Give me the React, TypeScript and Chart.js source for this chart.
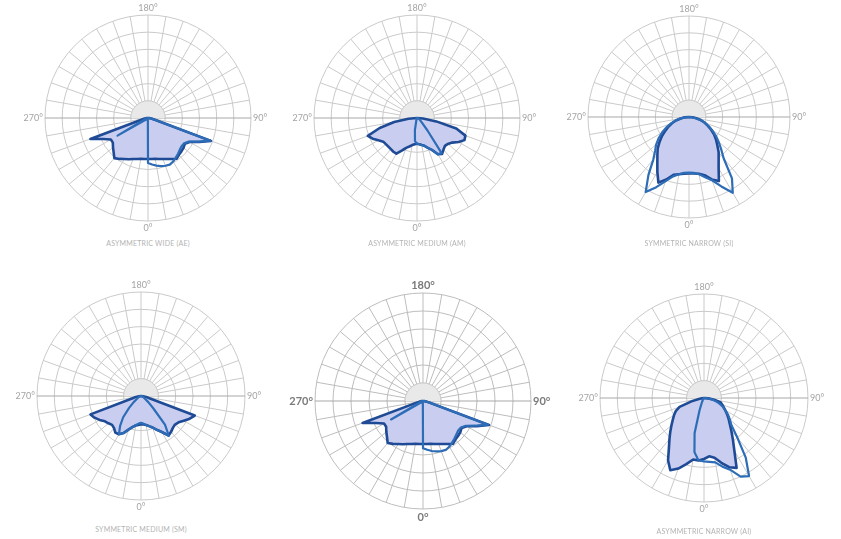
import React, { useEffect, useRef } from "react";
import { Chart, registerables } from "chart.js";

Chart.register(...registerables);

// Angles (degrees) around each diagram, clockwise starting at the top (180°)
const angles = [
  180, 175, 170, 165, 160, 155, 150, 145, 140, 135, 130, 125, 120, 115, 110, 105, 100, 95,
  90, 85, 80, 75, 70, 65, 60, 55, 50, 45, 40, 35, 30, 25, 20, 15, 10, 5,
  0, 355, 350, 345, 340, 335, 330, 325, 320, 315, 310, 305, 300, 295, 290, 285, 280, 275,
  270, 265, 260, 255, 250, 245, 240, 235, 230, 225, 220, 215, 210, 205, 200, 195, 190, 185,
];

// Only these angles carry a visible tick label
const axisTickLabels: Record<string, string> = { "180": "180°", "90": "90°", "0": "0°", "270": "270°" };

// Upper half (no light emitted): 180..95 and 265..185
const upperRightZero = [0, 0, 0, 0, 0, 0, 0, 0, 0, 0, 0, 0, 0, 0, 0, 0, 0, 0];
const upperLeftZero = [0, 0, 0, 0, 0, 0, 0, 0, 0, 0, 0, 0, 0, 0, 0, 0, 0];

// Lower half values, angles 90,85,...,5,0,355,...,275,270 (rings 0..6)
const aeMain = [
  0, 0.1, 0.2, 0.45, 3.9, 3.3, 2.8, 2.62, 2.7, 2.75, 2.8, 2.9, 2.76, 2.64, 2.54, 2.47, 2.42, 2.4,
  2.39,
  2.4, 2.42, 2.47, 2.54, 2.65, 2.76, 2.91, 3.05, 2.83, 2.66, 2.5, 2.5, 2.9, 3.57, 0.4, 0.2, 0.1, 0,
];
const aeCross = [
  0, 0.1, 0.2, 0.45, 3.85, 3.25, 2.75, 2.57, 2.55, 2.62, 2.72, 2.82, 2.93, 3.0, 2.96, 2.9, 2.82, 2.72,
  2.62,
  0.1, 0.08, 0.08, 0.08, 0.08, 0.1, 0.1, 0.1, 0.12, 0.15, 0.2, 2.05, 0.25, 0.2, 0.15, 0.1, 0.05, 0,
];

const amMain = [
  0, 0.35, 1.14, 2.37, 3.0, 3.05, 2.8, 2.5, 2.35, 2.3, 2.4, 2.55, 2.44, 2.05, 1.85, 1.68, 1.6, 1.53,
  1.5,
  1.53, 1.6, 1.72, 1.85, 2.1, 2.4, 2.4, 2.37, 2.36, 2.37, 2.4, 2.6, 2.85, 3.05, 2.25, 1.35, 0.5, 0,
];
const amCross = [
  0, 0.05, 0.08, 0.1, 0.12, 0.15, 0.18, 0.22, 0.3, 0.45, 0.95, 2.5, 2.44, 2.05, 1.85, 1.68, 1.6, 1.53,
  1.5,
  1.35, 0.7, 0.15, 0.08, 0.05, 0.05, 0.05, 0.05, 0.05, 0.05, 0.05, 0.05, 0.04, 0.04, 0.03, 0.02, 0.01, 0,
];

const siMain = [
  0, 0.2, 0.45, 0.75, 1.0, 1.24, 1.52, 1.82, 2.1, 2.38, 2.74, 3.07, 3.52, 4.2, 3.95, 3.58, 3.42, 3.37,
  3.35,
  3.38, 3.45, 3.55, 3.95, 4.3, 3.76, 3.28, 2.92, 2.63, 2.28, 1.96, 1.62, 1.34, 1.08, 0.8, 0.5, 0.25, 0,
];
const siCross = [
  0, 0.15, 0.4, 0.7, 1.0, 1.3, 1.6, 1.95, 2.3, 2.7, 3.2, 4.45, 5.2, 4.55, 4.0, 3.7, 3.45, 3.33,
  3.3,
  3.33, 3.45, 3.65, 4.05, 4.6, 5.15, 4.2, 3.3, 2.85, 2.55, 2.2, 1.85, 1.5, 1.15, 0.85, 0.55, 0.25, 0,
];

const smMain = [
  0, 0.12, 0.3, 0.5, 3.3, 3.1, 2.85, 2.65, 2.56, 2.6, 2.7, 2.78, 2.4, 2.15, 1.93, 1.8, 1.7, 1.65,
  1.63,
  1.68, 1.72, 1.85, 2.05, 2.35, 2.55, 2.58, 2.42, 2.36, 2.45, 2.54, 2.76, 2.96, 3.1, 0.5, 0.3, 0.12, 0,
];
const smCross = [
  0, 0.02, 0.05, 0.08, 0.12, 0.15, 0.2, 0.28, 0.55, 1.0, 2.15, 2.8, 2.4, 2.15, 1.93, 1.8, 1.7, 1.6,
  1.55,
  1.6, 1.7, 1.85, 2.05, 2.35, 2.55, 2.1, 1.6, 0.97, 0.55, 0.28, 0.2, 0.15, 0.12, 0.08, 0.05, 0.02, 0,
];

const aiMain = [
  0, 0.25, 0.6, 1.0, 1.12, 1.25, 1.42, 1.62, 1.85, 2.1, 2.45, 2.9, 3.5, 4.45, 4.25, 3.87, 3.5, 3.38,
  3.52,
  3.62, 3.6, 3.95, 4.33, 4.6, 4.15, 3.53, 3.1, 2.75, 2.45, 2.2, 2.0, 1.8, 1.5, 0.75, 0.3, 0.12, 0,
];
const aiCross = [
  0, 0.2, 0.45, 0.7, 0.95, 1.2, 1.42, 1.7, 1.95, 2.25, 3.0, 4.2, 5.2, 5.0, 4.4, 4.1, 3.77, 3.7,
  3.66,
  3.62, 3.17, 2.1, 0.75, 0.3, 0.15, 0.1, 0.08, 0.06, 0.05, 0.05, 0.04, 0.03, 0.02, 0.02, 0.01, 0.01, 0,
];

const ringMax = 6;
const capRing = 1;

type Spec = {
  main: number[];
  cross: number[];
  cx: number;
  cy: number;
  R: number;
  caption: string;
  captionY: number;
  bold: boolean;
};

const specs: Spec[] = [
  { main: aeMain, cross: aeCross, cx: 148, cy: 118, R: 103, caption: "ASYMMETRIC WIDE (AE)", captionY: 243, bold: false },
  { main: amMain, cross: amCross, cx: 417, cy: 118, R: 103, caption: "ASYMMETRIC MEDIUM (AM)", captionY: 243, bold: false },
  { main: siMain, cross: siCross, cx: 689, cy: 117, R: 101, caption: "SYMMETRIC NARROW (SI)", captionY: 243, bold: false },
  { main: smMain, cross: smCross, cx: 141, cy: 396, R: 104, caption: "SYMMETRIC MEDIUM (SM)", captionY: 529, bold: false },
  { main: aeMain, cross: aeCross, cx: 423, cy: 401, R: 108, caption: "", captionY: 0, bold: true },
  { main: aiMain, cross: aiCross, cx: 704, cy: 398, R: 104, caption: "ASYMMETRIC NARROW (AI)", captionY: 531, bold: false },
];

const full = (lower: number[]) => [...upperRightZero, ...lower, ...upperLeftZero];

const centerCap = {
  id: "centerCap",
  beforeDatasetsDraw(chart: any) {
    const r = chart.scales.r;
    const ctx = chart.ctx;
    const rad = r.getDistanceFromCenterForValue(capRing);
    ctx.save();
    ctx.beginPath();
    ctx.moveTo(r.xCenter + rad, r.yCenter);
    ctx.arc(r.xCenter, r.yCenter, rad, 0, Math.PI, true);
    ctx.closePath();
    ctx.fillStyle = "#e9e9e9";
    ctx.fill();
    ctx.beginPath();
    ctx.arc(r.xCenter, r.yCenter, rad, 0, Math.PI, true);
    ctx.strokeStyle = "#cdcdcd";
    ctx.lineWidth = 1;
    ctx.stroke();
    ctx.restore();
  },
};

function PolarDiagram({ spec }: { spec: Spec }) {
  const ref = useRef<HTMLCanvasElement | null>(null);
  const pad = 2;
  const lh = spec.bold ? 12 : 10;
  const H = 2 * (spec.R + pad + lh);
  const W = 2 * (spec.R + 50);
  const gridColor = spec.bold ? "#bdbdbd" : "#cacaca";

  useEffect(() => {
    if (!ref.current) return;
    const chart = new Chart(ref.current, {
      type: "radar",
      data: {
        labels: angles,
        datasets: [
          {
            data: full(spec.cross),
            borderColor: "#2d6cb6",
            borderWidth: 2.2,
            fill: false,
            pointRadius: 0,
          },
          {
            data: full(spec.main),
            borderColor: "#1f4a95",
            borderWidth: 2.6,
            backgroundColor: "#c9cef0",
            fill: true,
            pointRadius: 0,
          },
        ],
      },
      options: {
        responsive: false,
        animation: false,
        events: [],
        layout: { padding: 0 },
        plugins: {
          legend: { display: false },
          tooltip: { enabled: false },
          title: { display: false },
        },
        elements: {
          point: { radius: 0, hitRadius: 0, hoverRadius: 0 },
          line: { tension: 0, borderJoinStyle: "round" },
        },
        scales: {
          r: {
            min: 0,
            max: ringMax,
            startAngle: 0,
            ticks: { display: false, stepSize: 1 },
            grid: { circular: true, color: gridColor, lineWidth: 1 },
            angleLines: {
              display: true,
              color: (c: any) => (c.index === 18 || c.index === 54 ? "#a8a8a8" : gridColor),
              lineWidth: (c: any) => (c.index % 2 === 0 ? 1 : 0),
            },
            pointLabels: {
              display: true,
              padding: pad,
              color: spec.bold ? "#7a7a7a" : "#a4a4a4",
              font: {
                family: "Lato, 'Open Sans', sans-serif",
                size: spec.bold ? 11 : 9,
                weight: spec.bold ? "bold" : "normal",
                lineHeight: lh + "px",
              },
              callback: (label: any) => axisTickLabels[String(label)] ?? "",
            },
          },
        },
      },
      plugins: [centerCap],
    } as any);
    return () => chart.destroy();
  }, [spec]);

  return (
    <>
      <canvas
        ref={ref}
        width={W}
        height={H}
        style={{ position: "absolute", left: spec.cx - W / 2, top: spec.cy - H / 2, width: W, height: H }}
      />
      {spec.caption ? (
        <div
          style={{
            position: "absolute",
            left: spec.cx - 100,
            top: spec.captionY - 5,
            width: 200,
            height: 10,
            lineHeight: "10px",
            textAlign: "center",
            fontFamily: "Lato, 'Open Sans', sans-serif",
            fontSize: 7,
            letterSpacing: "0.2px",
            color: "#b3b3b3",
          }}
        >
          {spec.caption}
        </div>
      ) : null}
    </>
  );
}

export default function App() {
  return (
    <div
      style={{
        position: "absolute",
        left: 0,
        top: 0,
        width: 841,
        height: 539,
        background: "#ffffff",
        overflow: "hidden",
      }}
    >
      {specs.map((s, i) => (
        <PolarDiagram key={i} spec={s} />
      ))}
    </div>
  );
}
